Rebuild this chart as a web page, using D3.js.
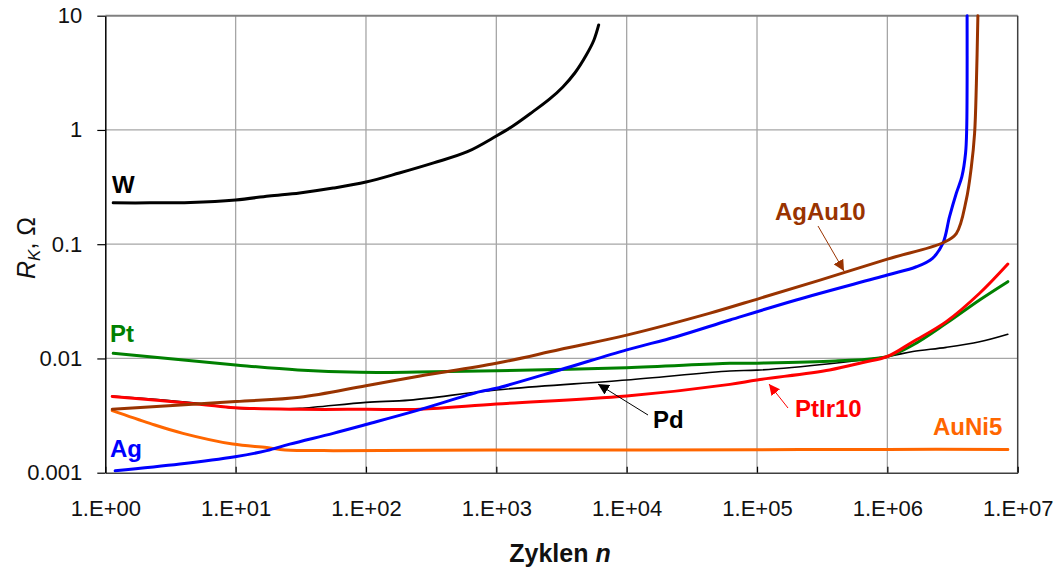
<!DOCTYPE html>
<html>
<head>
<meta charset="utf-8">
<script src="https://cdn.jsdelivr.net/npm/d3@7"></script>
<style>
  html, body { margin: 0; padding: 0; background: #fff; }
  svg { display: block; font-family: "Liberation Sans", Arial, sans-serif; }
</style>
</head>
<body>
<svg id="chart" width="1059" height="569"></svg>
<script>
// ---- data: [cycles n, contact resistance R_K in ohm] ----
const xTicks = [1e0, 1e1, 1e2, 1e3, 1e4, 1e5, 1e6, 1e7];
const xTickLabels = ["1.E+00", "1.E+01", "1.E+02", "1.E+03", "1.E+04", "1.E+05", "1.E+06", "1.E+07"];
const yTicks = [0.001, 0.01, 0.1, 1, 10];
const yTickLabels = ["0.001", "0.01", "0.1", "1", "10"];

const W = [[1.15,0.23],[2.2,0.23],[4.5,0.232],[10,0.244],[18,0.264],[31,0.281],[56,0.31],[100,0.35],[180,0.42],[330,0.515],[600,0.645],[1000,0.885],[1340,1.083],[1900,1.44],[2570,1.87],[3240,2.38],[4000,3.15],[4900,4.53],[5600,6.1],[6100,8.3]];
const Pt = [[1.15,0.0111],[10,0.00877],[30,0.00793],[90,0.00757],[250,0.0076],[1000,0.0078],[10000,0.0083],[62000,0.00906],[100000,0.0091],[400000,0.0095],[1e6,0.0104],[1.57e6,0.0131],[2.83e6,0.0203],[5.1e6,0.0325],[8.4e6,0.047]];
const Ag = [[1.19,0.00104],[3.74,0.00119],[9.9,0.00138],[17.3,0.00156],[26,0.00178],[56,0.00221],[100,0.00264],[244,0.00349],[750,0.00512],[1000,0.00548],[3070,0.00793],[10000,0.0119],[24000,0.0155],[62000,0.0217],[200000,0.0325],[1e6,0.0537],[1.67e6,0.0635],[2.22e6,0.0753],[2.67e6,0.102],[3.0e6,0.174],[3.38e6,0.279],[3.73e6,0.39],[3.98e6,0.625],[4.06e6,1.0],[4.09e6,10]];
const AgAu10 = [[1.13,0.00359],[10,0.00419],[31,0.00457],[100,0.00577],[260,0.00701],[1000,0.00906],[3070,0.01197],[10000,0.016],[43000,0.0248],[105000,0.0336],[300000,0.0482],[1e6,0.074],[2.67e6,0.103],[3.38e6,0.124],[4.03e6,0.244],[4.41e6,0.476],[4.67e6,0.936],[4.82e6,2.56],[4.95e6,10]];
const Pd = [[1.13,0.00469],[5.3,0.00404],[9.9,0.00366],[17.3,0.00359],[31,0.00366],[100,0.00413],[217,0.00432],[1000,0.0053],[10000,0.00648],[62000,0.00777],[100000,0.0079],[360000,0.009],[1e6,0.0104],[1.57e6,0.0115],[2.83e6,0.0125],[5.1e6,0.014],[8.4e6,0.0163]];
const PtIr10 = [[1.13,0.00465],[5.3,0.00398],[9.9,0.0037],[31,0.00359],[100,0.00359],[260,0.0036],[1000,0.00399],[10000,0.00469],[62000,0.00593],[100000,0.00648],[360000,0.00793],[650000,0.00922],[1e6,0.0104],[1.57e6,0.014],[2.83e6,0.021],[5.1e6,0.0372],[8.4e6,0.0671]];
const AuNi5 = [[1.13,0.00349],[2.2,0.0027],[3.94,0.00221],[9.5,0.00178],[17.3,0.00166],[24,0.00158],[56,0.00156],[1000,0.00158],[10000,0.00158],[100000,0.00159],[1e6,0.0016],[8.4e6,0.0016]];

const seriesNames = ["W", "Pt", "Ag", "AgAu10", "Pd", "PtIr10", "AuNi5"];
const seriesData = [W, Pt, Ag, AgAu10, Pd, PtIr10, AuNi5];

// ---- styles ----
const colors = {W:"#000000", Pt:"#008000", Ag:"#0000ff", AgAu10:"#993300", Pd:"#000000", PtIr10:"#ff0000", AuNi5:"#ff6600"};
const widths = {W:3, Pt:3, Ag:3, AgAu10:3, Pd:1.6, PtIr10:3, AuNi5:3};
const drawOrder = ["AuNi5", "Pd", "Pt", "PtIr10", "Ag", "AgAu10", "W"];

const margin = {left: 105.3, right: 1059 - 1017.7, top: 15.7, bottom: 569 - 472.7};
const svg = d3.select("#chart");
const x = d3.scaleLog().domain([1, 1e7]).range([margin.left, 1059 - margin.right]);
const y = d3.scaleLog().domain([0.001, 10]).range([569 - margin.bottom, margin.top]);

// gridlines
const grid = svg.append("g");
grid.selectAll("line.vx").data(xTicks.slice(1, -1)).join("line")
  .attr("x1", d => x(d)).attr("x2", d => x(d))
  .attr("y1", y(10)).attr("y2", y(0.001))
  .attr("stroke", "#a6a6a6").attr("stroke-width", 1.3);
grid.selectAll("line.hy").data(yTicks.slice(1, -1)).join("line")
  .attr("x1", x(1)).attr("x2", x(1e7))
  .attr("y1", d => y(d)).attr("y2", d => y(d))
  .attr("stroke", "#a6a6a6").attr("stroke-width", 1.3);

// frame (top & right)
svg.append("line").attr("x1", x(1)).attr("x2", x(1e7)).attr("y1", y(10)).attr("y2", y(10))
  .attr("stroke", "#808080").attr("stroke-width", 2);
svg.append("line").attr("x1", x(1e7)).attr("x2", x(1e7)).attr("y1", y(10)).attr("y2", y(0.001))
  .attr("stroke", "#404040").attr("stroke-width", 1.5);

// series
const line = d3.line().x(d => x(d[0])).y(d => y(d[1])).curve(d3.curveCatmullRom.alpha(0.5));
const plot = svg.append("g");
drawOrder.forEach(name => {
  const data = seriesData[seriesNames.indexOf(name)];
  plot.append("path").datum(data)
    .attr("d", line)
    .attr("fill", "none")
    .attr("stroke", colors[name])
    .attr("stroke-width", widths[name])
    .attr("stroke-linejoin", "round")
    .attr("stroke-linecap", "round");
});

// axes
const xAxis = d3.axisBottom(x).tickValues(xTicks)
  .tickFormat((d, i) => xTickLabels[i]).tickSizeInner(-6).tickSizeOuter(0).tickPadding(28);
const gx = svg.append("g").attr("transform", `translate(0,${y(0.001)})`).call(xAxis);
gx.select(".domain").attr("stroke", "#404040").attr("stroke-width", 1.5);
gx.selectAll(".tick line").attr("stroke", "#000").attr("stroke-width", 1.2);
gx.selectAll("text").attr("font-size", 22).attr("fill", "#111").attr("font-family", "Liberation Sans, Arial, sans-serif");

const yAxis = d3.axisLeft(y).tickValues(yTicks)
  .tickFormat((d, i) => yTickLabels[i]).tickSizeInner(8).tickSizeOuter(0).tickPadding(15);
const gy = svg.append("g").attr("transform", `translate(${x(1)},0)`).call(yAxis);
gy.select(".domain").attr("stroke", "#000").attr("stroke-width", 1.5);
gy.selectAll(".tick line").attr("stroke", "#000").attr("stroke-width", 1.2);
gy.selectAll("text").attr("font-size", 22).attr("fill", "#111").attr("font-family", "Liberation Sans, Arial, sans-serif");

// axis titles
svg.append("text")
  .attr("x", 560).attr("y", 562)
  .attr("text-anchor", "middle").attr("font-size", 25).attr("font-weight", "bold").attr("fill", "#111")
  .html('Zyklen <tspan font-style="italic">n</tspan>');

const yt = svg.append("text")
  .attr("transform", "translate(35,248) rotate(-90)")
  .attr("text-anchor", "middle").attr("font-size", 25).attr("fill", "#111");
yt.append("tspan").attr("font-style", "italic").text("R");
yt.append("tspan").attr("font-style", "italic").attr("font-size", 17).attr("dy", 5).text("K");
yt.append("tspan").attr("dy", -5).text(",  Ω");

// arrow markers
const defs = svg.append("defs");
["AgAu10", "Pd", "PtIr10"].forEach(name => {
  defs.append("marker").attr("id", "arr-" + name)
    .attr("viewBox", "0 0 10 10").attr("refX", 10).attr("refY", 5)
    .attr("markerWidth", 11).attr("markerHeight", 11).attr("markerUnits", "userSpaceOnUse")
    .attr("orient", "auto")
    .append("path").attr("d", "M0,0 L10,5 L0,10 Z").attr("fill", colors[name]);
});

// annotations
const labels = [
  {name: "W", tx: 112, ty: 193},
  {name: "Pt", tx: 110, ty: 342},
  {name: "Ag", tx: 110, ty: 457},
  {name: "AgAu10", tx: 775, ty: 220, a: [818, 226, 844, 271]},
  {name: "Pd", tx: 653, ty: 428, a: [648, 415, 598, 384]},
  {name: "PtIr10", tx: 795, ty: 417, a: [788, 408, 769, 384]},
  {name: "AuNi5", tx: 933, ty: 435}
];
labels.forEach(l => {
  svg.append("text").attr("x", l.tx).attr("y", l.ty)
    .attr("font-size", 24).attr("font-weight", "bold").attr("fill", colors[l.name])
    .text(l.name);
  if (l.a) {
    svg.append("line").attr("x1", l.a[0]).attr("y1", l.a[1]).attr("x2", l.a[2]).attr("y2", l.a[3])
      .attr("stroke", colors[l.name]).attr("stroke-width", 1)
      .attr("marker-end", `url(#arr-${l.name})`);
  }
});
</script>
</body>
</html>
